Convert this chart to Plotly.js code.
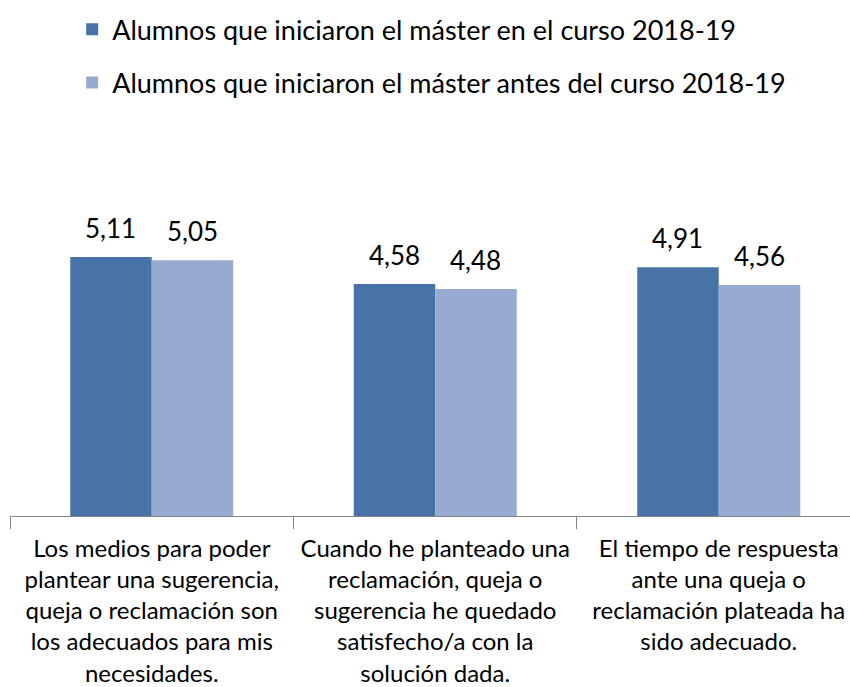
<!DOCTYPE html>
<html><head><meta charset="utf-8">
<script src="https://cdn.plot.ly/plotly-3.0.1.min.js"></script>
<style>body{margin:0;padding:0;background:#fff}#chart{width:850px;height:687px}</style>
</head><body><div id="chart"></div>
<script>
const categories = [
  "Los medios para poder<br>plantear una sugerencia,<br>queja o reclamación son<br>los adecuados para mis<br>necesidades.",
  "Cuando he planteado una<br>reclamación, queja o<br>sugerencia he quedado<br>satisfecho/a con la<br>solución dada.",
  "El tiempo de respuesta<br>ante una queja o<br>reclamación plateada ha<br>sido adecuado."
];
const seriesNames = [
  "Alumnos que iniciaron el máster en el curso 2018-19",
  "Alumnos que iniciaron el máster antes del curso 2018-19"
];
const valuesNew = [5.11, 4.58, 4.91];
const valuesOld = [5.05, 4.48, 4.56];

const FONT = "Lato, Carlito, 'Open Sans', sans-serif";
const W = 850, H = 687, ML = 10, MR = 0;
const XRANGE = [-0.5, 2.463];
const BARGAP = 0.425;
const pxPerCat = (W - ML - MR) / (XRANGE[1] - XRANGE[0]);
const barOffsetPx = pxPerCat * (1 - BARGAP) / 4;

const traces = [
  {type:'bar', name:seriesNames[0], x:categories, y:valuesNew, legendgroup:'a',
   marker:{color:'#4773a6'}, hoverinfo:'none'},
  {type:'bar', name:seriesNames[1], x:categories, y:valuesOld, legendgroup:'b',
   marker:{color:'#96aad2'}, hoverinfo:'none'}
];
const fmt = v => v.toFixed(2).replace('.', ',');
const annotations = [];
[valuesNew, valuesOld].forEach((vals, s) => {
  vals.forEach((v, i) => {
    annotations.push({xref:'x', yref:'y', x:categories[i], y:v, text:fmt(v), showarrow:false,
      xanchor:'center', yanchor:'middle', xshift:(s === 0 ? -1 : 1) * barOffsetPx, yshift:29,
      font:{size:26, family:FONT, color:'#000'}});
  });
});
const layout = {
  width:W, height:H,
  margin:{l:ML, r:MR, t:212, b:171, pad:0},
  paper_bgcolor:'#fff', plot_bgcolor:'#fff',
  font:{family:FONT, color:'#000'},
  barmode:'group', bargap:BARGAP, bargroupgap:0,
  showlegend:true,
  legend:{x:0.074, xanchor:'left', y:1.68, yanchor:'top', orientation:'v',
          traceorder:'grouped', tracegroupgap:15, font:{size:27, family:FONT, color:'#000'},
          bgcolor:'rgba(0,0,0,0)'},
  annotations:annotations,
  xaxis:{type:'category', range:XRANGE, showline:true, linecolor:'#868686', linewidth:1,
         ticks:'outside', tickson:'boundaries', ticklen:12, tickcolor:'#868686',
         showgrid:false, zeroline:false, tickangle:0, tickfont:{size:24, family:FONT, color:'#000'},
         ticklabelstandoff:11, automargin:false, fixedrange:true},
  yaxis:{range:[0,6], visible:false, showgrid:false, zeroline:false, fixedrange:true}
};
Plotly.newPlot('chart', traces, layout, {staticPlot:true, displayModeBar:false});
</script></body></html>
